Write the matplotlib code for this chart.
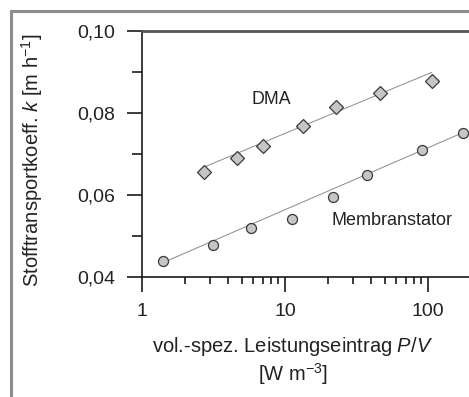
import numpy as np
import matplotlib
matplotlib.use("Agg")
import matplotlib.pyplot as plt
from matplotlib.ticker import FixedLocator, FuncFormatter, LogLocator, NullFormatter
from matplotlib.patches import Rectangle

plt.rcParams['font.family'] = ['Liberation Sans', 'DejaVu Sans']
plt.rcParams['mathtext.fontset'] = 'custom'
plt.rcParams['mathtext.rm'] = 'Liberation Sans'
plt.rcParams['mathtext.it'] = 'Liberation Sans:italic'

# Data
dma_x = [2.71, 4.59, 6.98, 13.4, 22.6, 46.2, 106]
dma_y = [0.0657, 0.0691, 0.0720, 0.0768, 0.0814, 0.0848, 0.0879]
mem_x = [1.40, 3.12, 5.75, 11.2, 21.8, 37.6, 90.3, 175]
mem_y = [0.0440, 0.0478, 0.0519, 0.0541, 0.0596, 0.0648, 0.0710, 0.0752]

# trend lines (end points)
dma_fit_x = [2.71, 106]
dma_fit_y = [0.0668, 0.0899]
mem_fit_x = [1.40, 175]
mem_fit_y = [0.0435, 0.0752]

y_ticks = [0.04, 0.06, 0.08, 0.10]
y_minor = [0.05, 0.07, 0.09]

W, H = 469, 397
fig = plt.figure(figsize=(W / 100, H / 100), dpi=100)

# gray frame around the picture
fig.patches.append(Rectangle((11 / W, -0.1), 1.2, (H - 11) / H + 0.1,
                             transform=fig.transFigure, fill=False,
                             edgecolor='#8e8e8e', linewidth=2.2))

ax_l, ax_r, ax_t, ax_b = 142, 469, 31, 277
ax = fig.add_axes([ax_l / W, (H - ax_b) / H, (ax_r - ax_l) / W, (ax_b - ax_t) / H])
ax.set_xscale('log')
ax.set_xlim(1, 10 ** ((ax_r - ax_l) / 143))
ax.set_ylim(0.04, 0.10)

ax.plot(dma_fit_x, dma_fit_y, color='#8a8a8a', lw=0.7, zorder=2)
ax.plot(mem_fit_x, mem_fit_y, color='#8a8a8a', lw=0.7, zorder=2)
ax.plot(dma_x, dma_y, 'D', ms=7, mfc='#c6c6c6', mec='#3a3a3a', mew=0.9,
        ls='none', zorder=3, clip_on=False)
ax.plot(mem_x, mem_y, 'o', ms=7.2, mfc='#c6c6c6', mec='#3a3a3a', mew=0.9,
        ls='none', zorder=3, clip_on=False)

ax.text(8.07, 0.0832, 'DMA', ha='center', va='center', fontsize=12.8, color='#222222')
ax.text(55.7, 0.0539, 'Membranstator', ha='center', va='center', fontsize=13,
        color='#222222')

ax.spines['right'].set_visible(False)
ax.spines['top'].set_color('#555555')
ax.spines['top'].set_linewidth(2)
ax.spines['left'].set_color('#1a1a1a')
ax.spines['bottom'].set_color('#1a1a1a')
ax.spines['left'].set_linewidth(1.2)
ax.spines['bottom'].set_linewidth(1.2)

ax.yaxis.set_major_locator(FixedLocator(y_ticks))
ax.yaxis.set_minor_locator(FixedLocator(y_minor))
ax.yaxis.set_major_formatter(FuncFormatter(lambda v, p: f'{v:.2f}'.replace('.', ',')))
ax.xaxis.set_major_locator(LogLocator(base=10, numticks=10))
ax.xaxis.set_minor_locator(LogLocator(base=10, subs=np.arange(2, 10), numticks=10))
ax.xaxis.set_minor_formatter(NullFormatter())
ax.xaxis.set_major_formatter(FuncFormatter(lambda v, p: f'{v:g}'))

ax.tick_params(axis='both', which='major', direction='out', length=11, width=1.2,
               color='#1a1a1a', labelsize=14, labelcolor='#222222', pad=8)
ax.tick_params(axis='y', which='minor', direction='out', length=7, width=1.2,
               color='#1a1a1a')
ax.tick_params(axis='x', which='minor', direction='out', length=5, width=1.2,
               color='#1a1a1a')

fig.text(32 / W, 1 - 160 / H, 'Stofftransportkoeff. $k$ [m h$^{-1}$]', rotation=90,
         ha='center', va='center', fontsize=14.5, color='#222222')
fig.text(292 / W, 1 - 347 / H, 'vol.-spez. Leistungseintrag $P/V$', ha='center',
         va='center', fontsize=14.5, color='#222222')
fig.text(293 / W, 1 - 374 / H, '[W m$^{-3}$]', ha='center', va='center',
         fontsize=14.5, color='#222222')

fig.savefig('out.png', dpi=100)
